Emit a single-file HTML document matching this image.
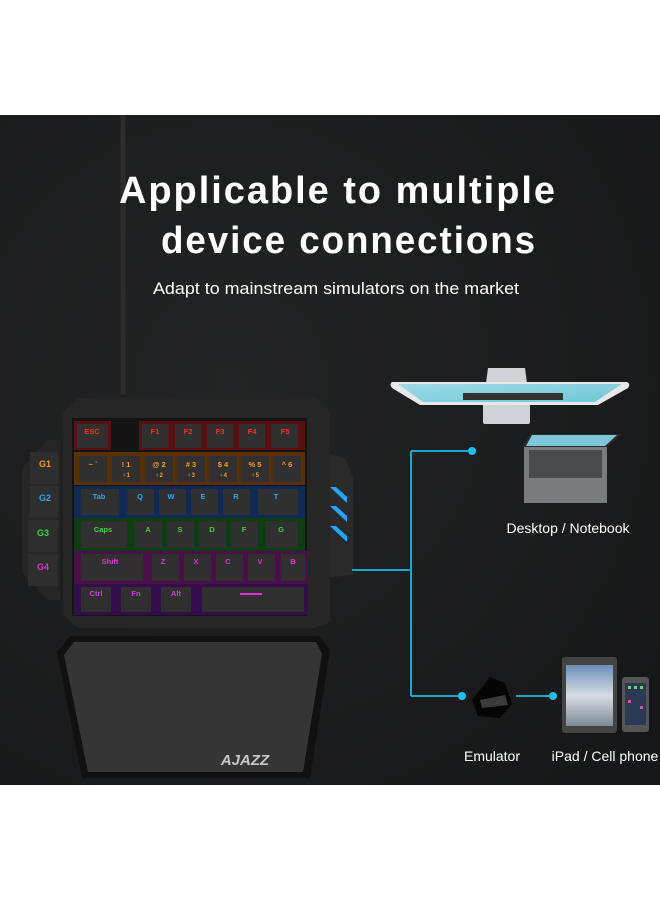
<!DOCTYPE html>
<html><head><meta charset="utf-8"><style>
html,body{margin:0;padding:0;background:#fff;}
body{width:660px;height:900px;position:relative;overflow:hidden;font-family:"Liberation Sans",sans-serif;}
</style></head><body>
<svg width="660" height="900" viewBox="0 0 660 900" xmlns="http://www.w3.org/2000/svg" style="position:absolute;left:0;top:0">
<defs>
<radialGradient id="bg" cx="0.35" cy="0.4" r="0.8"><stop offset="0" stop-color="#232425"/><stop offset="1" stop-color="#161718"/></radialGradient>
<linearGradient id="scr" x1="0" y1="0" x2="1" y2="1"><stop offset="0" stop-color="#9fdbe6"/><stop offset="1" stop-color="#6fc6d6"/></linearGradient>
<linearGradient id="sky" x1="0" y1="0" x2="0" y2="1"><stop offset="0" stop-color="#6a8fb8"/><stop offset="0.5" stop-color="#d7dde4"/><stop offset="1" stop-color="#7d8996"/></linearGradient>
</defs>
<rect x="0" y="115" width="660" height="670" fill="url(#bg)"/>
<path d="M123 115 L123 395" stroke="#2c2c2c" stroke-width="5"/>
<text x="338" y="203" fill="#fff" font-size="38" font-weight="bold" text-anchor="middle" letter-spacing="2" textLength="438" lengthAdjust="spacingAndGlyphs">Applicable to multiple</text>
<text x="349" y="253" fill="#fff" font-size="38" font-weight="bold" text-anchor="middle" letter-spacing="2" textLength="376" lengthAdjust="spacingAndGlyphs">device connections</text>
<text x="336" y="294" fill="#fff" font-size="17" text-anchor="middle" textLength="366" lengthAdjust="spacingAndGlyphs">Adapt to mainstream simulators on the market</text>
<path d="M70 636 L320 636 L330 650 L310 778 L82 778 L57 652 Z" fill="#111"/>
<path d="M74 642 L316 642 L322 654 L303 772 L88 772 L64 655 Z" fill="#353536"/>
<text x="245" y="765" fill="#c8c8c8" font-size="15" font-weight="bold" font-style="italic" text-anchor="middle">AJAZZ</text>
<path d="M60 440 L60 600 L48 600 L22 572 L22 468 L48 440 Z" fill="#262627"/>
<g font-size="9" font-weight="bold" text-anchor="middle">
<rect x="30" y="452" width="28" height="32" fill="#2e2e2e"/><text x="45" y="467" fill="#f39a2c">G1</text>
<rect x="30" y="486" width="28" height="32" fill="#2e2e2e"/><text x="45" y="501" fill="#2fa5f0">G2</text>
<rect x="28" y="520" width="30" height="32" fill="#2e2e2e"/><text x="43" y="536" fill="#3ed13c">G3</text>
<rect x="28" y="554" width="30" height="32" fill="#2e2e2e"/><text x="43" y="570" fill="#e22fd8">G4</text>
</g>
<path d="M322 452 L345 458 L353 478 L353 575 L322 578 Z" fill="#2a2a2b"/>
<g fill="#21a7ff"><path d="M330 487 L336 487 L347 497 L347 503 Z"/><path d="M330 506 L336 506 L347 516 L347 522 Z"/><path d="M330 526 L336 526 L347 536 L347 542 Z"/></g>
<path d="M78 398 L315 398 L330 412 L330 622 L315 628 L78 628 L63 615 L63 412 Z" fill="#262627"/>
<rect x="72" y="418" width="235" height="198" fill="#141414"/>
<g font-size="7.5" font-weight="bold" text-anchor="middle">
<rect x="74" y="421" width="37" height="29" fill="#5a1010"/>
<rect x="139" y="421" width="166" height="29" fill="#5a1010"/>
<g fill="#303030"><rect x="77" y="424" width="31" height="24"/><rect x="142" y="424" width="26" height="24"/><rect x="175" y="424" width="26" height="24"/><rect x="207" y="424" width="26" height="24"/><rect x="239" y="424" width="26" height="24"/><rect x="272" y="424" width="26" height="24"/></g>
<g fill="#ff2b2b"><text x="92" y="434">ESC</text><text x="155" y="434">F1</text><text x="188" y="434">F2</text><text x="220" y="434">F3</text><text x="252" y="434">F4</text><text x="285" y="434">F5</text></g>
<rect x="74" y="452" width="231" height="33" fill="#5a3008"/>
<g fill="#303030"><rect x="79" y="456" width="28" height="26"/><rect x="112" y="456" width="28" height="26"/><rect x="145" y="456" width="28" height="26"/><rect x="177" y="456" width="28" height="26"/><rect x="209" y="456" width="28" height="26"/><rect x="241" y="456" width="28" height="26"/><rect x="273" y="456" width="28" height="26"/></g>
<g fill="#ff9a22"><text x="93" y="467">~ `</text><text x="126" y="467">! 1</text><text x="159" y="467">@ 2</text><text x="191" y="467"># 3</text><text x="223" y="467">$ 4</text><text x="255" y="467">% 5</text><text x="287" y="467">^ 6</text>
<text x="126" y="477" font-size="6">♀1</text><text x="159" y="477" font-size="6">♀2</text><text x="191" y="477" font-size="6">♀3</text><text x="223" y="477" font-size="6">♀4</text><text x="255" y="477" font-size="6">♀5</text></g>
<rect x="74" y="486" width="231" height="32" fill="#0f2a55"/>
<g fill="#303030"><rect x="81" y="489" width="38" height="26"/><rect x="127" y="489" width="27" height="26"/><rect x="159" y="489" width="27" height="26"/><rect x="191" y="489" width="27" height="26"/><rect x="223" y="489" width="27" height="26"/><rect x="258" y="489" width="40" height="26"/></g>
<g fill="#2fa5f0"><text x="99" y="499">Tab</text><text x="140" y="499">Q</text><text x="171" y="499">W</text><text x="203" y="499">E</text><text x="236" y="499">R</text><text x="276" y="499">T</text></g>
<rect x="74" y="518" width="231" height="33" fill="#0f3d12"/>
<g fill="#303030"><rect x="81" y="521" width="46" height="27"/><rect x="135" y="521" width="27" height="27"/><rect x="167" y="521" width="27" height="27"/><rect x="199" y="521" width="27" height="27"/><rect x="231" y="521" width="27" height="27"/><rect x="266" y="521" width="32" height="27"/></g>
<g fill="#3ed13c"><text x="103" y="532">Caps</text><text x="148" y="532">A</text><text x="180" y="532">S</text><text x="212" y="532">D</text><text x="244" y="532">F</text><text x="281" y="532">G</text></g>
<rect x="74" y="551" width="234" height="33" fill="#4a0e48"/>
<g fill="#303030"><rect x="81" y="554" width="62" height="27"/><rect x="152" y="554" width="27" height="27"/><rect x="184" y="554" width="27" height="27"/><rect x="216" y="554" width="27" height="27"/><rect x="248" y="554" width="27" height="27"/><rect x="281" y="554" width="24" height="27"/></g>
<g fill="#e22fd8"><text x="110" y="564">Shift</text><text x="163" y="564">Z</text><text x="196" y="564">X</text><text x="228" y="564">C</text><text x="260" y="564">V</text><text x="293" y="564">B</text></g>
<rect x="74" y="584" width="234" height="31" fill="#330e4a"/>
<g fill="#303030"><rect x="81" y="587" width="30" height="25"/><rect x="121" y="587" width="30" height="25"/><rect x="161" y="587" width="30" height="25"/><rect x="202" y="587" width="102" height="25"/></g>
<g fill="#d03ce6"><text x="96" y="596">Ctrl</text><text x="136" y="596">Fn</text><text x="176" y="596">Alt</text></g>
<rect x="240" y="593" width="22" height="2" fill="#e22fd8"/>
</g>
<g stroke="#1aa8c9" stroke-width="2" fill="none">
<path d="M352 570 L411 570"/><path d="M411 451 L411 696"/><path d="M411 451 L472 451"/><path d="M411 696 L462 696"/><path d="M516 696 L553 696"/>
</g>
<g fill="#16c2ee"><circle cx="472" cy="451" r="4"/><circle cx="462" cy="696" r="4"/><circle cx="553" cy="696" r="4"/></g>
<path d="M488 368 L525 368 L527 383 L486 383 Z" fill="#cfd2d6"/>
<path d="M392 382 L627 382 Q631 384 628 388 L598 405 L420 405 L392 388 Q389 384 392 382 Z" fill="#e6e8ea"/>
<path d="M398 384 L622 384 L595 402 L423 402 Z" fill="url(#scr)"/>
<rect x="463" y="393" width="100" height="7" fill="#333"/>
<path d="M483 405 L530 405 L530 422 Q530 424 528 424 L485 424 Q483 424 483 422 Z" fill="#cfd2d6"/>
<path d="M530 434 L622 434 L607 447 L523 447 Z" fill="#2b2b2b"/>
<path d="M532 435 L617 435 L605 446 L526 446 Z" fill="#7cc7d8"/>
<rect x="524" y="447" width="83" height="56" fill="#7a7b7d"/>
<rect x="529" y="450" width="73" height="28" fill="#4a4b4d"/>
<text x="568" y="533" fill="#fff" font-size="14" text-anchor="middle">Desktop / Notebook</text>
<path d="M490 677 L505 683 L512 704 L500 718 L478 716 L472 700 Z" fill="#050505"/>
<path d="M480 700 L505 695 L508 705 L482 708 Z" fill="#3b3b3b"/>
<rect x="562" y="657" width="55" height="76" rx="3" fill="#444"/>
<rect x="566" y="665" width="47" height="61" fill="url(#sky)"/>
<rect x="622" y="677" width="27" height="55" rx="3" fill="#555"/>
<rect x="625" y="683" width="21" height="42" fill="#2a3a55"/>
<g fill="#6fd36a"><rect x="628" y="686" width="3" height="3"/><rect x="634" y="686" width="3" height="3"/><rect x="640" y="686" width="3" height="3"/></g>
<g fill="#e54ea0"><rect x="628" y="700" width="3" height="3"/><rect x="640" y="706" width="3" height="3"/></g>
<text x="492" y="761" fill="#fff" font-size="14" text-anchor="middle">Emulator</text>
<text x="605" y="761" fill="#fff" font-size="14" text-anchor="middle">iPad / Cell phone</text>
</svg>
</body></html>
